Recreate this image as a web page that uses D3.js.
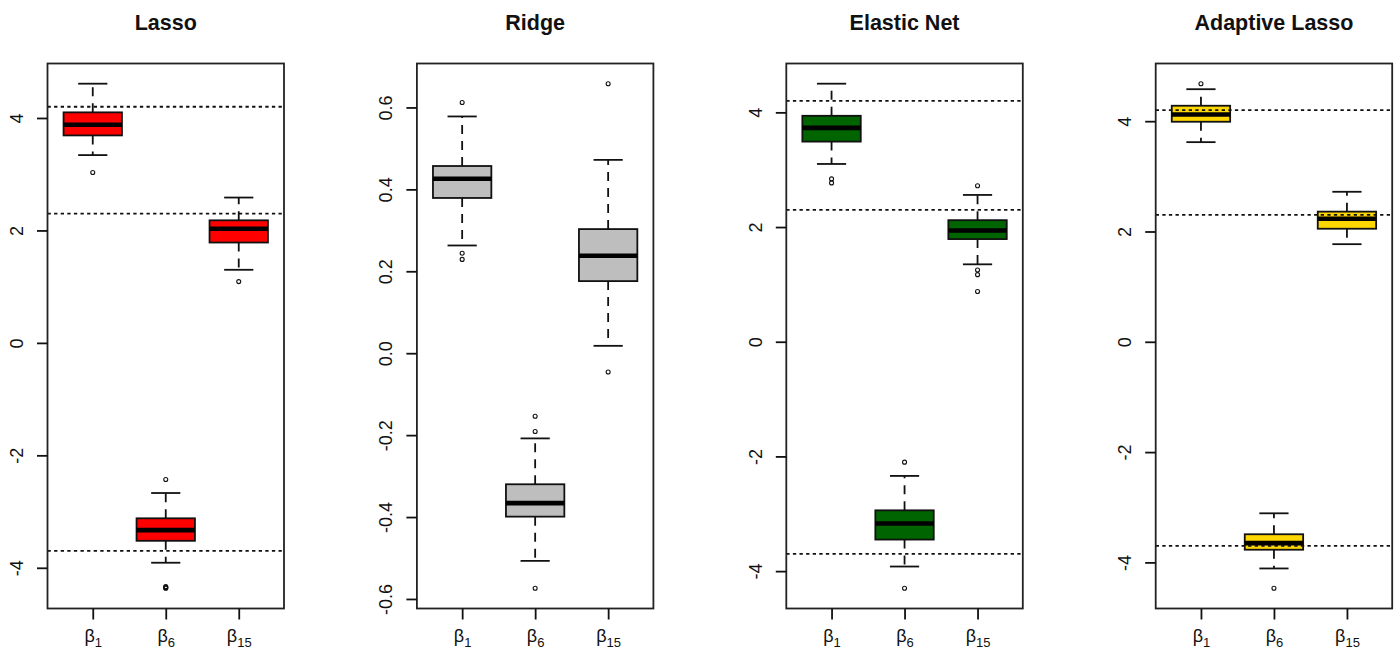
<!DOCTYPE html>
<html>
<head>
<meta charset="utf-8">
<script src="https://cdn.jsdelivr.net/npm/d3@7"></script>
<style>
  html, body { margin: 0; padding: 0; background: #fff; }
  svg { display: block; font-family: "Liberation Sans", Arial, sans-serif; }
</style>
</head>
<body>
<svg id="chart" width="1400" height="651"></svg>
<script>
// ---- data -------------------------------------------------------------
const methods = ["Lasso", "Ridge", "Elastic Net", "Adaptive Lasso"];
const coefficients = ["1", "6", "15"];
const boxFills = ["#FF0000", "#BEBEBE", "#006400", "#FFD700"];
const trueCoefficients = [4.2, 2.3, -3.7];
const showTruth = [true, false, true, true];

// per coefficient: [lower whisker, Q1, median, Q3, upper whisker]
const lassoStats = [[3.34, 3.69, 3.88, 4.10, 4.61], [-3.91, -3.52, -3.33, -3.12, -2.67], [1.30, 1.785, 2.03, 2.18, 2.585]];
const lassoOutliers = [[3.03], [-2.43, -4.335, -4.345, -4.355, -4.365], [1.09]];

const ridgeStats = [[0.263, 0.379, 0.426, 0.457, 0.578], [-0.507, -0.399, -0.366, -0.320, -0.208], [0.018, 0.176, 0.238, 0.303, 0.472]];
const ridgeOutliers = [[0.612, 0.244, 0.229], [-0.154, -0.191, -0.574], [0.658, -0.046]];

const enetStats = [[3.10, 3.49, 3.73, 3.94, 4.50], [-3.92, -3.45, -3.17, -2.94, -2.34], [1.35, 1.79, 1.94, 2.12, 2.56]];
const enetOutliers = [[2.84, 2.77], [-2.10, -4.30], [2.72, 1.25, 1.17, 0.875]];

const alassoStats = [[3.62, 3.99, 4.12, 4.28, 4.58], [-4.11, -3.77, -3.65, -3.49, -3.11], [1.77, 2.05, 2.23, 2.36, 2.72]];
const alassoOutliers = [[4.68], [-4.47], []];

const integerTicks = [-4, -2, 0, 2, 4];
const integerTickLabels = ["-4", "-2", "0", "2", "4"];
const ridgeTicks = [-0.6, -0.4, -0.2, 0.0, 0.2, 0.4, 0.6];
const ridgeTickLabels = ["-0.6", "-0.4", "-0.2", "0.0", "0.2", "0.4", "0.6"];

const allStats = [lassoStats, ridgeStats, enetStats, alassoStats];
const allOutliers = [lassoOutliers, ridgeOutliers, enetOutliers, alassoOutliers];
const allTicks = [integerTicks, ridgeTicks, integerTicks, integerTicks];
const allTickLabels = [integerTickLabels, ridgeTickLabels, integerTickLabels, integerTickLabels];

// ---- layout -----------------------------------------------------------
const svg = d3.select("#chart");
const firstLeft = 47.5, panelStep = 369.4, plotW = 236.5;
const plotTop = 63.5, plotBottom = 608.5;
const boxWidth = 0.8, capWidth = 0.4;
const ink = "#111";

methods.forEach((name, m) => {
  const left = firstLeft + m * panelStep;
  const right = left + plotW;
  const stats = allStats[m];
  const outliers = allOutliers[m];

  // y range: data extent widened by 4% on each side
  const values = stats.flat().concat(outliers.flat());
  const lo = d3.min(values), hi = d3.max(values);
  const pad = (hi - lo) * 0.04;
  const y = d3.scaleLinear().domain([lo - pad, hi + pad]).range([plotBottom, plotTop]);
  const x = d3.scaleLinear().domain([0.38, 3.62]).range([left, right]);

  const g = svg.append("g");

  // boxes
  stats.forEach((s, i) => {
    const cx = x(i + 1);
    const [wl, q1, med, q3, wh] = s;
    const bg = g.append("g");
    // dashed whiskers
    [[q1, wl], [q3, wh]].forEach(([a, b]) => {
      bg.append("line")
        .attr("x1", cx).attr("x2", cx)
        .attr("y1", y(a)).attr("y2", y(b))
        .attr("stroke", ink).attr("stroke-width", 1.8)
        .attr("stroke-dasharray", "9,7");
    });
    // staples
    [wl, wh].forEach(v => {
      bg.append("line")
        .attr("x1", x(i + 1 - capWidth / 2)).attr("x2", x(i + 1 + capWidth / 2))
        .attr("y1", y(v)).attr("y2", y(v))
        .attr("stroke", ink).attr("stroke-width", 1.8);
    });
    // box
    bg.append("rect")
      .attr("x", x(i + 1 - boxWidth / 2))
      .attr("width", x(i + 1 + boxWidth / 2) - x(i + 1 - boxWidth / 2))
      .attr("y", y(q3)).attr("height", y(q1) - y(q3))
      .attr("fill", boxFills[m])
      .attr("stroke", ink).attr("stroke-width", 1.8);
    // median
    bg.append("line")
      .attr("x1", x(i + 1 - boxWidth / 2)).attr("x2", x(i + 1 + boxWidth / 2))
      .attr("y1", y(med)).attr("y2", y(med))
      .attr("stroke", "#000").attr("stroke-width", 4.6);
    // outliers
    outliers[i].forEach(v => {
      bg.append("circle")
        .attr("cx", cx).attr("cy", y(v)).attr("r", 2)
        .attr("fill", "none").attr("stroke", ink).attr("stroke-width", 1.1);
    });
  });

  // reference lines at the true coefficient values
  if (showTruth[m]) {
    trueCoefficients.forEach(v => {
      g.append("line")
        .attr("x1", left).attr("x2", right)
        .attr("y1", y(v)).attr("y2", y(v))
        .attr("stroke", ink).attr("stroke-width", 1.8)
        .attr("stroke-dasharray", "3.3,3.3");
    });
  }

  // frame
  g.append("rect")
    .attr("x", left).attr("y", plotTop)
    .attr("width", plotW).attr("height", plotBottom - plotTop)
    .attr("fill", "none").attr("stroke", "#222").attr("stroke-width", 1.8);

  // y axis
  const yAxis = g.append("g")
    .attr("transform", `translate(${left},0)`)
    .call(d3.axisLeft(y)
      .tickValues(allTicks[m])
      .tickFormat((d, i) => allTickLabels[m][i])
      .tickSize(10.5));
  yAxis.select(".domain").remove();
  yAxis.selectAll(".tick line").attr("stroke", ink).attr("stroke-width", 1.8);
  yAxis.selectAll(".tick text")
    .attr("x", 0).attr("y", -24.5).attr("dy", null)
    .attr("transform", "rotate(-90)")
    .attr("text-anchor", "middle")
    .attr("fill", ink)
    .style("font-size", "18px")
    .style("font-family", "'Liberation Sans', Arial, sans-serif");

  // x axis with subscripted coefficient labels
  const xAxis = g.append("g")
    .attr("transform", `translate(0,${plotBottom})`)
    .call(d3.axisBottom(x)
      .tickValues([1, 2, 3])
      .tickFormat("")
      .tickSize(11));
  xAxis.select(".domain").remove();
  xAxis.selectAll(".tick line").attr("stroke", ink).attr("stroke-width", 1.8);
  xAxis.selectAll(".tick text").each(function (d, i) {
    const t = d3.select(this)
      .attr("y", 33.5).attr("dy", null)
      .attr("text-anchor", "middle")
      .attr("fill", ink)
      .style("font-family", "'Liberation Sans', Arial, sans-serif");
    t.append("tspan").style("font-size", "18px").text("β");
    t.append("tspan").style("font-size", "13px").attr("dy", 5).text(coefficients[i]);
  });

  // panel title
  g.append("text")
    .attr("x", (left + right) / 2).attr("y", 29.5)
    .attr("text-anchor", "middle")
    .attr("fill", ink)
    .style("font-size", "21.5px").style("font-weight", "bold")
    .text(name);
});
</script>
</body>
</html>
